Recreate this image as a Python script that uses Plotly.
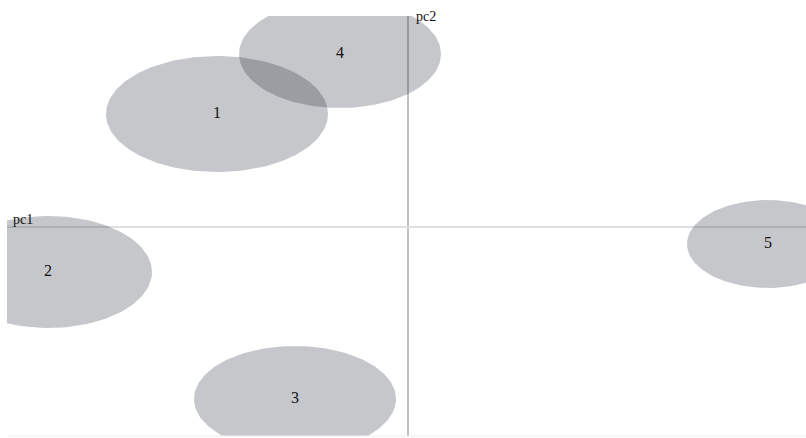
import numpy as np
import plotly.graph_objects as go

# Data (pc1, pc2 units)
groups = ["1", "2", "3", "4", "5"]
center_pc1 = [-1.91, -3.60, -1.13, -0.68, 3.60]
center_pc2 = [1.13, -0.45, -1.72, 1.73, -0.17]
radius_pc1 = [1.11, 1.04, 1.01, 1.01, 0.81]
radius_pc2 = [0.58, 0.56, 0.53, 0.54, 0.44]
axis_labels = ["pc1", "pc2"]

FILL = "rgba(42,48,58,0.27)"
FONT = "Liberation Serif"

fig = go.Figure()
t = np.linspace(0, 2 * np.pi, 181)
for g, cx, cy, rx, ry in zip(groups, center_pc1, center_pc2, radius_pc1, radius_pc2):
    fig.add_trace(go.Scatter(
        x=cx + rx * np.cos(t), y=cy + ry * np.sin(t),
        mode="lines", fill="toself", fillcolor=FILL,
        line=dict(width=0, color="rgba(0,0,0,0)"),
        hoverinfo="skip", showlegend=False, name=g,
    ))

fig.add_trace(go.Scatter(
    x=center_pc1, y=center_pc2, mode="text", text=groups,
    textfont=dict(family=FONT, size=16, color="#111"),
    showlegend=False, hoverinfo="skip",
))

fig.add_annotation(x=0, y=1, xref="x", yref="paper", text=axis_labels[1],
                   showarrow=False, xanchor="left", yanchor="middle",
                   xshift=6, yshift=0, font=dict(family=FONT, size=14, color="#111"))
fig.add_annotation(x=0, y=0, xref="paper", yref="y", text=axis_labels[0],
                   showarrow=False, xanchor="left", yanchor="middle",
                   xshift=4, yshift=8, font=dict(family=FONT, size=14, color="#111"))

fig.update_layout(
    width=806, height=438,
    margin=dict(l=7, r=0, t=16, b=2),
    paper_bgcolor="white", plot_bgcolor="white",
    xaxis=dict(range=[-4.01, 3.98], showgrid=False, showticklabels=False, ticks="",
               zeroline=True, zerolinecolor="#c0c0c0", zerolinewidth=2,
               showline=False, fixedrange=True),
    yaxis=dict(range=[-2.09, 2.11], showgrid=False, showticklabels=False, ticks="",
               zeroline=True, zerolinecolor="#e0e0e0", zerolinewidth=2,
               showline=False, fixedrange=True),
)
fig.add_shape(type="line", xref="paper", yref="paper", x0=0, x1=1, y0=0, y1=0,
              line=dict(color="#eeeeee", width=1))

fig.write_html("out.html", config={"displayModeBar": False},
               post_script="document.body.style.margin='0';document.body.style.overflow='hidden';")
